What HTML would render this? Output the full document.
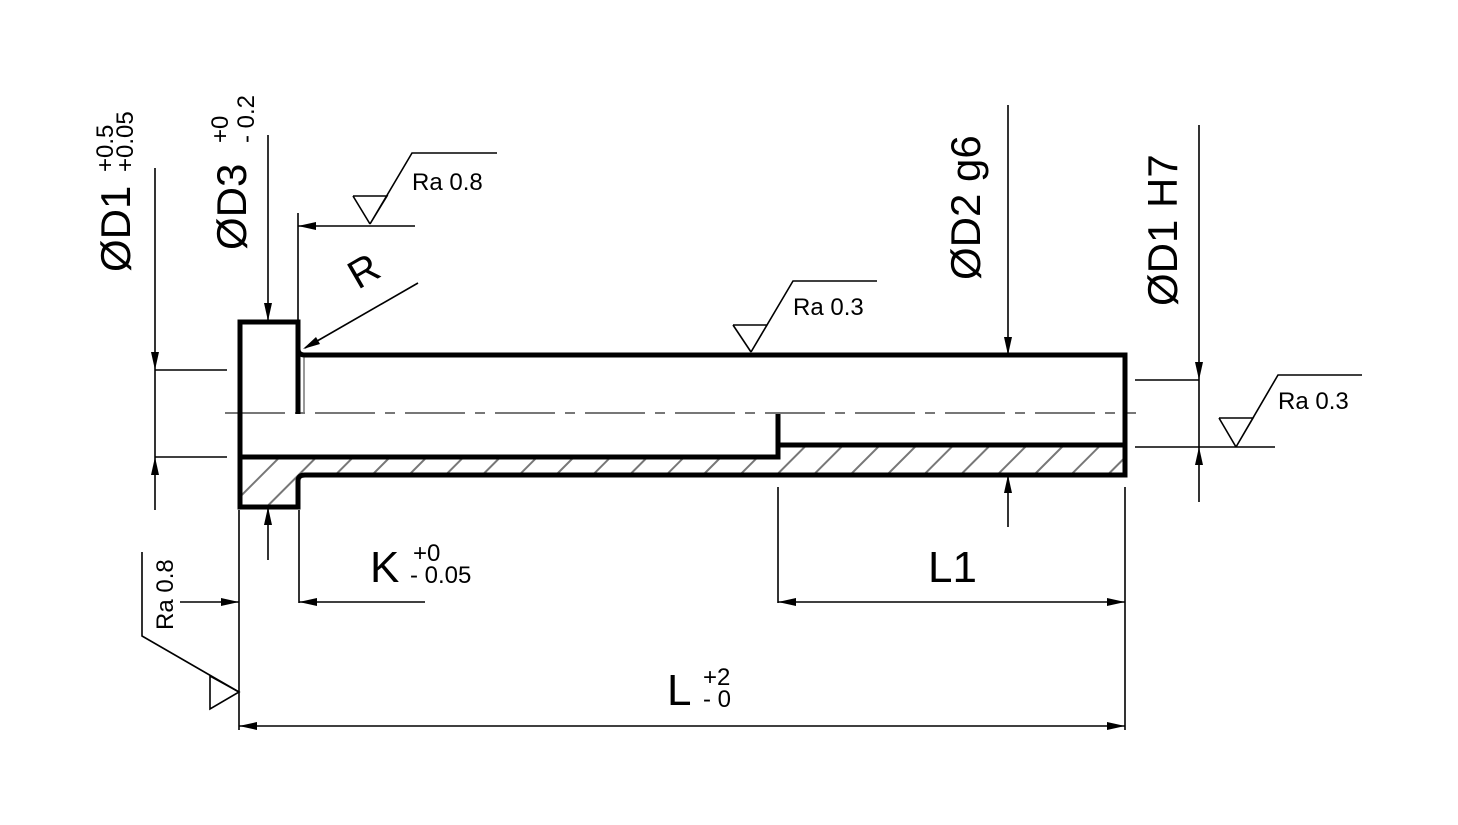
<!DOCTYPE html>
<html><head><meta charset="utf-8"><style>html,body{margin:0;padding:0;background:#fff}svg{display:block}</style></head>
<body>
<svg width="1458" height="825" viewBox="0 0 1458 825" xmlns="http://www.w3.org/2000/svg" font-family="Liberation Sans, Arial, sans-serif">
<defs>
<pattern id="h" patternUnits="userSpaceOnUse" width="26" height="26" patternTransform="rotate(45)">
<line x1="0" y1="0" x2="0" y2="26" stroke="#777" stroke-width="4"/>
</pattern>
</defs>
<rect width="1458" height="825" fill="#fff"/>
<polygon points="241,457 778,457 778,445 1125,445 1125,475 305,475 299,481 299,507 241,507" fill="url(#h)"/>
<line x1="304" y1="357" x2="304" y2="413" stroke="#999" stroke-width="2"/>
<line x1="225" y1="413" x2="1136" y2="413" stroke="#777" stroke-width="2" stroke-dasharray="60,10,10,10"/>
<g stroke="#000" stroke-width="5" fill="none" stroke-linejoin="miter">
<path d="M298,414 V322 H240 V507 H298 V481 Q298,475 305,475 H1125 V355 H305 Q298,355 298,349"/>
<path d="M240,457 H778 V414"/>
<path d="M778,445 H1125"/>
</g>
<g stroke="#000" stroke-width="1.6" fill="none">
<line x1="155" y1="168" x2="155" y2="510"/>
<line x1="155" y1="370" x2="227" y2="370"/>
<line x1="155" y1="457" x2="227" y2="457"/>
<line x1="268" y1="135" x2="268" y2="321"/>
<line x1="268" y1="507" x2="268" y2="560"/>
<line x1="298" y1="213" x2="298" y2="321"/>
<line x1="298" y1="226" x2="415" y2="226"/>
<polyline points="353,196 387,196 370,224 412,153 497,153"/>
<line x1="353" y1="196" x2="370" y2="224"/>
<line x1="418" y1="283" x2="305" y2="348"/>
<polyline points="733,325 767,325 751,352 793,281 877,281"/>
<line x1="733" y1="325" x2="751" y2="352"/>
<line x1="1008" y1="105" x2="1008" y2="355"/>
<line x1="1008" y1="475" x2="1008" y2="527"/>
<line x1="1199" y1="125" x2="1199" y2="502"/>
<line x1="1135" y1="380" x2="1199" y2="380"/>
<line x1="1135" y1="447" x2="1275" y2="447"/>
<polyline points="1219,418 1253,418 1236,447 1278,375 1362,375"/>
<line x1="1219" y1="418" x2="1236" y2="447"/>
<line x1="239" y1="510" x2="239" y2="730"/>
<line x1="299" y1="510" x2="299" y2="603"/>
<line x1="180" y1="602" x2="239" y2="602"/>
<line x1="299" y1="602" x2="425" y2="602"/>
<line x1="778" y1="487" x2="778" y2="603"/>
<line x1="1125" y1="487" x2="1125" y2="730"/>
<line x1="778" y1="602" x2="1125" y2="602"/>
<line x1="239" y1="726" x2="1125" y2="726"/>
<polyline points="142,552 142,636 239,692"/>
<polygon points="210,676 210,709 239,692"/>
</g>
<g fill="#000">
<polygon points="155,370 151,352 159,352"/>
<polygon points="155,457 151,475 159,475"/>
<polygon points="268,321 264,303 272,303"/>
<polygon points="268,507 264,525 272,525"/>
<polygon points="298,226 316,222 316,230"/>
<polygon points="303,349 316,337 320,344"/>
<polygon points="1008,355 1004,337 1012,337"/>
<polygon points="1008,475 1004,493 1012,493"/>
<polygon points="1199,380 1195,362 1203,362"/>
<polygon points="1199,447 1195,465 1203,465"/>
<polygon points="239,602 221,598 221,606"/>
<polygon points="299,602 317,598 317,606"/>
<polygon points="778,602 796,598 796,606"/>
<polygon points="1125,602 1107,598 1107,606"/>
<polygon points="239,726 257,722 257,730"/>
<polygon points="1125,726 1107,722 1107,730"/>
</g>
<g fill="#000">
<text transform="translate(130,272) rotate(-90)" font-size="42">ØD1</text>
<text transform="translate(113,172) rotate(-90)" font-size="24">+0.5</text>
<text transform="translate(133,172) rotate(-90)" font-size="24">+0.05</text>
<text transform="translate(246,250) rotate(-90)" font-size="42">ØD3</text>
<text transform="translate(228,143) rotate(-90)" font-size="24">+0</text>
<text transform="translate(254,143) rotate(-90)" font-size="24">- 0.2</text>
<text x="412" y="190" font-size="24">Ra 0.8</text>
<text transform="translate(358,290) rotate(-30)" font-size="40">R</text>
<text x="793" y="315" font-size="24">Ra 0.3</text>
<text transform="translate(980,280) rotate(-90)" font-size="42">ØD2 g6</text>
<text transform="translate(1177,306) rotate(-90)" font-size="42">ØD1 H7</text>
<text x="1278" y="409" font-size="24">Ra 0.3</text>
<text transform="translate(173,630) rotate(-90)" font-size="24">Ra 0.8</text>
<text x="370" y="582" font-size="44">K</text>
<text x="413" y="561" font-size="24">+0</text>
<text x="410" y="583" font-size="24">- 0.05</text>
<text x="928" y="582" font-size="44">L1</text>
<text x="667" y="705" font-size="44">L</text>
<text x="703" y="685" font-size="24">+2</text>
<text x="703" y="707" font-size="24">- 0</text>
</g>
</svg>
</body></html>
